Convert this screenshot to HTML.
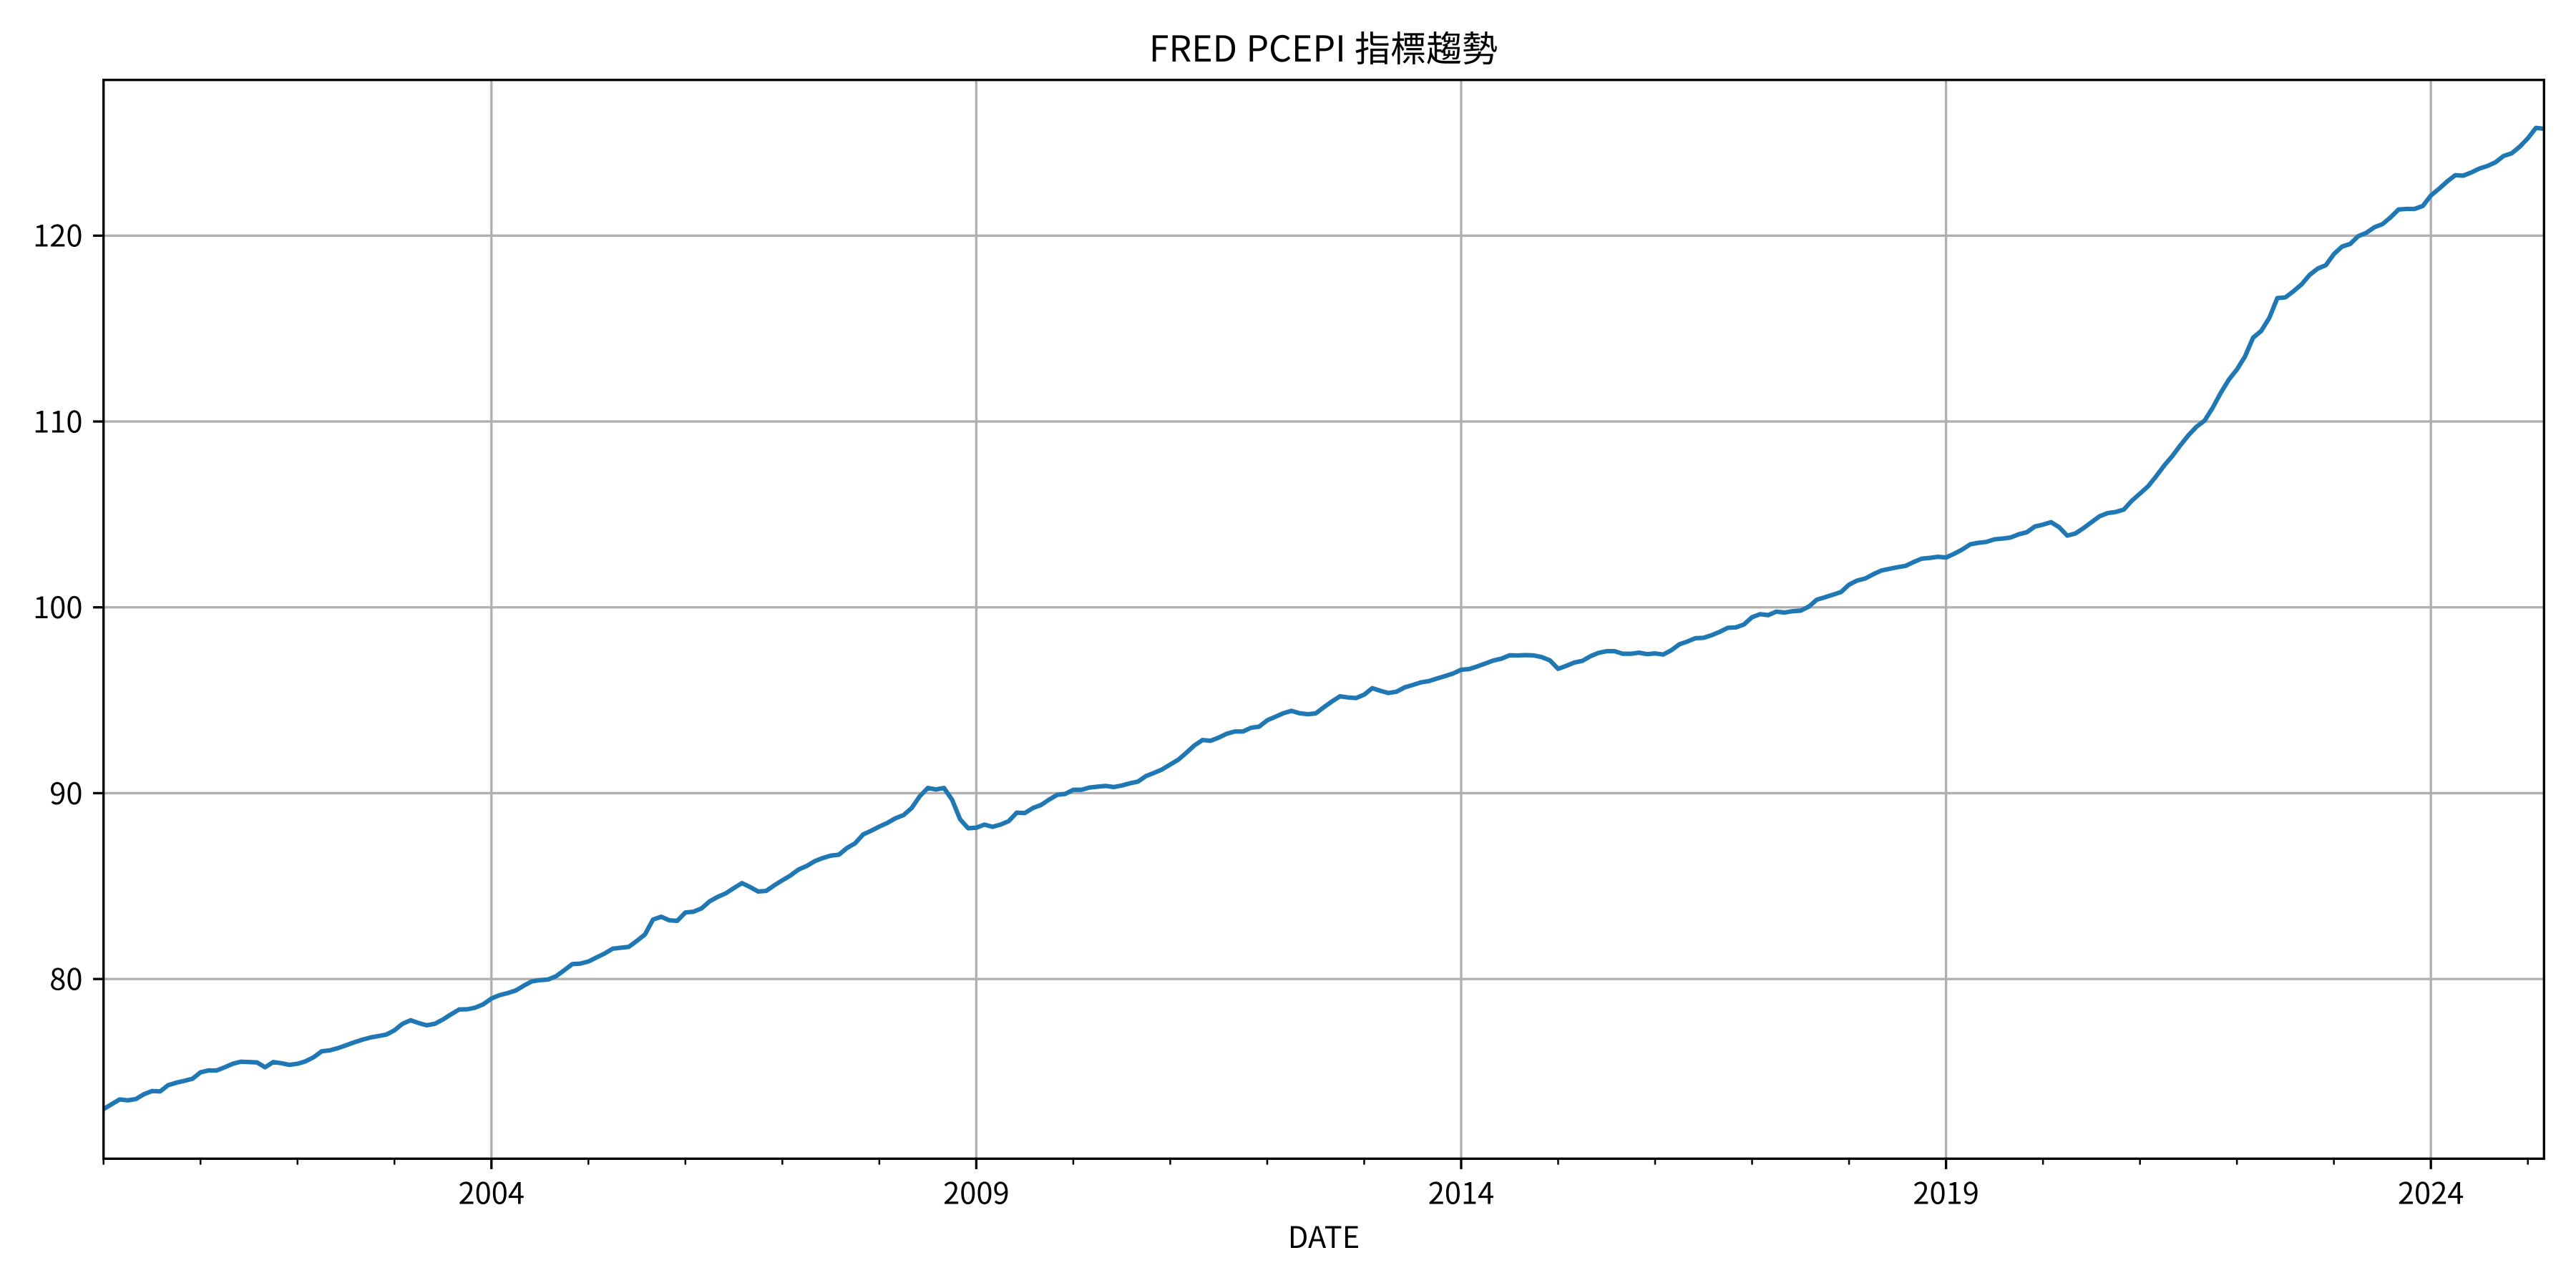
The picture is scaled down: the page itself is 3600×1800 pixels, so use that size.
<!DOCTYPE html>
<html lang="zh-Hant">
<head>
<meta charset="utf-8">
<title>FRED PCEPI 指標趨勢</title>
<style>
html,body{margin:0;padding:0;background:#fff;width:3600px;height:1800px;overflow:hidden}
svg{display:block}
text{font-family:"Noto Sans CJK TC","Noto Sans CJK JP","Liberation Sans",sans-serif;fill:#000;text-rendering:geometricPrecision}
</style>
</head>
<body>
<svg id="chart" xmlns="http://www.w3.org/2000/svg" width="3600" height="1800" viewBox="0 0 3600 1800">
  <rect x="0" y="0" width="3600" height="1800" fill="#fff"/>
  <defs><clipPath id="plot-clip"><rect x="144.7" y="111.7" width="3410.6" height="1507.6"/></clipPath></defs>
  <g id="grid"></g>
  <g id="series" clip-path="url(#plot-clip)"></g>
  <rect x="144.7" y="111.7" width="3410.6" height="1507.6" fill="none" stroke="#000" stroke-width="3.33"/>
  <g id="ticks"></g>
  <text x="1849.5" y="86" font-size="50" text-anchor="middle" word-spacing="1.2">FRED PCEPI 指標趨勢</text>
  <text x="1850" y="1744" font-size="41.67" text-anchor="middle">DATE</text>
</svg>
<script>
// Monthly observations beginning at January of startYear.
const startYear = 2000;
const values = [
73.0,73.26,73.52,73.47,73.54,73.8,73.97,73.95,74.29,74.42,
74.52,74.63,74.98,75.08,75.08,75.25,75.44,75.55,75.53,75.51,
75.25,75.53,75.47,75.38,75.44,75.57,75.79,76.11,76.16,76.28,
76.43,76.59,76.73,76.85,76.93,77.01,77.24,77.59,77.78,77.63,
77.51,77.59,77.82,78.10,78.36,78.37,78.46,78.64,78.95,79.13,
79.24,79.38,79.64,79.87,79.94,79.97,80.15,80.47,80.8,80.83,
80.94,81.16,81.37,81.63,81.68,81.73,82.05,82.4,83.2,83.35,
83.16,83.13,83.58,83.62,83.8,84.18,84.42,84.61,84.89,85.16,
84.95,84.71,84.74,85.04,85.31,85.57,85.89,86.08,86.34,86.51,
86.64,86.69,87.05,87.30,87.78,87.98,88.2,88.4,88.65,88.82,
89.2,89.83,90.28,90.2,90.28,89.65,88.59,88.11,88.14,88.31,
88.19,88.31,88.49,88.95,88.93,89.2,89.36,89.65,89.91,89.96,
90.18,90.18,90.3,90.35,90.39,90.33,90.41,90.53,90.62,90.92,
91.09,91.28,91.54,91.8,92.18,92.57,92.86,92.82,92.99,93.2,
93.32,93.32,93.52,93.58,93.92,94.11,94.3,94.43,94.3,94.25,
94.29,94.62,94.93,95.21,95.15,95.12,95.3,95.65,95.51,95.39,
95.46,95.69,95.82,95.96,96.03,96.17,96.30,96.44,96.64,96.68,
96.82,96.98,97.14,97.24,97.42,97.41,97.43,97.41,97.32,97.14,
96.69,96.85,97.03,97.12,97.37,97.55,97.64,97.64,97.5,97.5,
97.56,97.48,97.52,97.46,97.69,98.01,98.16,98.34,98.36,98.5,
98.68,98.9,98.92,99.08,99.47,99.63,99.58,99.77,99.72,99.79,
99.82,100.03,100.41,100.54,100.68,100.82,101.22,101.44,101.55,101.78,
101.98,102.07,102.16,102.23,102.44,102.62,102.66,102.72,102.68,102.88,
103.11,103.39,103.47,103.52,103.66,103.7,103.76,103.93,104.04,104.35,
104.45,104.58,104.31,103.86,103.97,104.26,104.58,104.9,105.07,105.13,
105.26,105.74,106.12,106.51,107.05,107.63,108.14,108.72,109.26,109.72,
110.05,110.74,111.54,112.25,112.8,113.5,114.51,114.87,115.57,116.64,
116.68,117.01,117.38,117.89,118.23,118.41,119.01,119.41,119.55,119.97,
120.15,120.45,120.62,120.98,121.41,121.44,121.44,121.6,122.16,122.52,
122.91,123.25,123.23,123.4,123.61,123.75,123.95,124.29,124.43,124.79,
125.24,125.8,125.75
];
const yTickValues = [80, 90, 100, 110, 120];
const xMajorYears = [2004, 2009, 2014, 2019, 2024];
const xMinorYears = [2000, 2001, 2002, 2003, 2005, 2006, 2007, 2008, 2010, 2011, 2012, 2013, 2015, 2016, 2017, 2018, 2020, 2021, 2022, 2023, 2025];

const SVG_NS = 'http://www.w3.org/2000/svg';
const plotLeft = 144.7, plotRight = 3555.3, plotTop = 111.7, plotBottom = 1619.3;
const yDomainMin = 70.33, yDomainMax = 128.38;
const xDomainMonths = 302;

function xScale(monthIndex) {
  return plotLeft + (monthIndex / xDomainMonths) * (plotRight - plotLeft);
}
function yScale(value) {
  return plotBottom - ((value - yDomainMin) / (yDomainMax - yDomainMin)) * (plotBottom - plotTop);
}
function yearToMonth(year) {
  return (year - startYear) * 12;
}
function makeLine(x1, y1, x2, y2, stroke, width) {
  const el = document.createElementNS(SVG_NS, 'line');
  el.setAttribute('x1', x1);
  el.setAttribute('y1', y1);
  el.setAttribute('x2', x2);
  el.setAttribute('y2', y2);
  el.setAttribute('stroke', stroke);
  el.setAttribute('stroke-width', width);
  return el;
}
function makeText(x, y, anchor, content) {
  const el = document.createElementNS(SVG_NS, 'text');
  el.setAttribute('x', x);
  el.setAttribute('y', y);
  el.setAttribute('text-anchor', anchor);
  el.setAttribute('font-size', '41.67');
  el.textContent = content;
  return el;
}

const gridLayer = document.getElementById('grid');
const seriesLayer = document.getElementById('series');
const tickLayer = document.getElementById('ticks');

xMajorYears.forEach(function (year) {
  const x = xScale(yearToMonth(year));
  const grid = makeLine(x, plotTop, x, plotBottom, '#b0b0b0', 3.33);
  
  
  gridLayer.appendChild(grid);
  const tick = makeLine(x, plotBottom, x, plotBottom + 14.6, '#000', 3.33);
  
  
  tickLayer.appendChild(tick);
  const label = makeText(x, 1682.5, 'middle', String(year));
  
  
  tickLayer.appendChild(label);
});

xMinorYears.forEach(function (year) {
  const x = xScale(yearToMonth(year));
  const tick = makeLine(x, plotBottom, x, plotBottom + 8.33, '#000', 2.5);
  
  
  tickLayer.appendChild(tick);
});

yTickValues.forEach(function (value) {
  const y = yScale(value);
  const grid = makeLine(plotLeft, y, plotRight, y, '#b0b0b0', 3.33);
  
  
  gridLayer.appendChild(grid);
  const tick = makeLine(plotLeft - 14.6, y, plotLeft, y, '#000', 3.33);
  
  
  tickLayer.appendChild(tick);
  const label = makeText(plotLeft - 29.2, y + 15.3, 'end', String(value));
  
  
  tickLayer.appendChild(label);
});

const points = values.map(function (value, monthIndex) {
  return xScale(monthIndex).toFixed(2) + ',' + yScale(value).toFixed(2);
}).join(' ');
const seriesLine = document.createElementNS(SVG_NS, 'polyline');


seriesLine.setAttribute('points', points);
seriesLine.setAttribute('fill', 'none');
seriesLine.setAttribute('stroke', '#1f77b4');
seriesLine.setAttribute('stroke-width', '6.25');
seriesLine.setAttribute('stroke-linejoin', 'round');
seriesLine.setAttribute('stroke-linecap', 'square');
seriesLayer.appendChild(seriesLine);
</script>
</body>
</html>
